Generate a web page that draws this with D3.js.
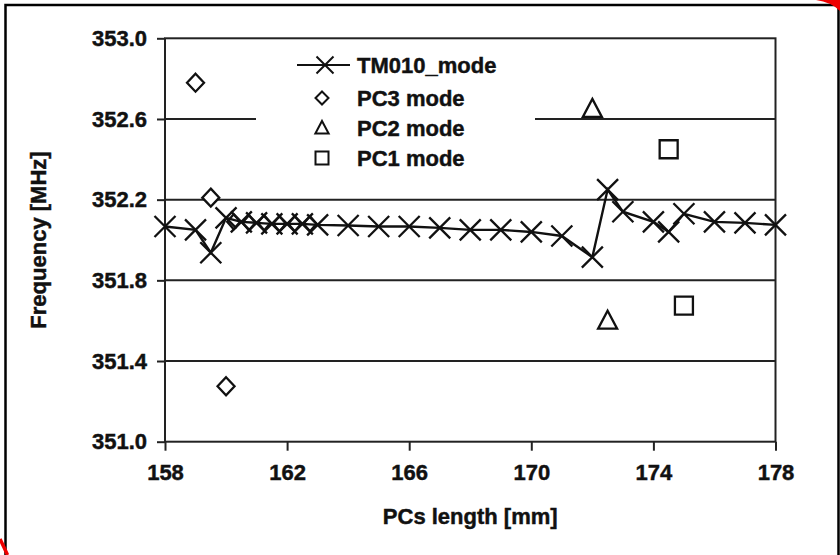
<html>
<head>
<script src="https://cdn.jsdelivr.net/npm/d3@7"></script>
<style>
    body {
        margin: 0;
        background: white;
        font-family: "Liberation Sans", Arial, Helvetica, sans-serif;
    }
    svg text {
        font-weight: bold;
        fill: #111;
        stroke: #111;
        stroke-width: 0.45px;
    }
</style>
</head>
<body>
<svg id="FreqChart"></svg>
<script>
    // TM010 mode (line + X markers)
    let tmLength = [158, 159, 159.5, 160, 160.5, 161, 161.5, 162, 162.5, 163, 164, 165, 166, 167, 168, 169, 170, 171, 172, 172.5, 173, 174, 174.5, 175, 176, 177, 178]
    let tmFreq = [352.067, 352.05, 351.937, 352.11, 352.09, 352.085, 352.08, 352.08, 352.08, 352.075, 352.072, 352.067, 352.067, 352.06, 352.05, 352.05, 352.04, 352.02, 351.915, 352.25, 352.14, 352.09, 352.04, 352.13, 352.09, 352.085, 352.075]

    // PC modes (markers only)
    let pc3Length = [159, 159.5, 160, 160.25, 160.75, 161.25, 161.75, 162.25, 162.75]
    let pc3Freq = [352.78, 352.21, 351.275, 352.09, 352.085, 352.085, 352.08, 352.08, 352.08]
    let pc2Length = [172, 172.5]
    let pc2Freq = [352.65, 351.6]
    let pc1Length = [174.5, 175]
    let pc1Freq = [352.45, 351.675]

    let xTicks = [158, 162, 166, 170, 174, 178]
    let yTicks = [351.0, 351.4, 351.8, 352.2, 352.6, 353.0]
    let legendLabels = ["TM010_mode", "PC3 mode", "PC2 mode", "PC1 mode"]

    function getChartConfig() {
        let width = 840
        let height = 555
        let margin = { top: 38.3, bottom: 113.3, left: 165, right: 64.5 }
        let bodyWidth = width - margin.left - margin.right
        let bodyHeight = height - margin.top - margin.bottom
        let container = d3.select("#FreqChart")
            .attr("width", width)
            .attr("height", height)
        return { width, height, margin, bodyWidth, bodyHeight, container }
    }

    function getChartScales(config) {
        let { bodyWidth, bodyHeight } = config
        let xScale = d3.scaleLinear().domain([158, 178]).range([0, bodyWidth])
        let yScale = d3.scaleLinear().domain([351, 353]).range([bodyHeight, 0])
        return { xScale, yScale }
    }

    function zip(xs, ys) {
        return xs.map((x, i) => ({ x: x, y: ys[i] }))
    }

    // marker drawers, centred on 0,0
    function crossPath(r) {
        return `M${-r},${-r}L${r},${r}M${-r},${r}L${r},${-r}`
    }
    function diamondPath(w, h) {
        return `M0,${-h}L${w},0L0,${h}L${-w},0Z`
    }
    function trianglePath(s) {
        return `M0,${-s}L${s * 0.95},${s * 0.8}L${-s * 0.95},${s * 0.8}Z`
    }
    function squarePath(s) {
        return `M${-s},${-s}H${s}V${s}H${-s}Z`
    }

    function drawFrame(config) {
        let { container } = config
        container.append("path")
            .attr("d", "M5.5,560V5H838.5V560")
            .attr("fill", "none")
            .attr("stroke", "#000")
            .attr("stroke-width", 2.5)
        // red marks at the corners
        container.append("path")
            .attr("d", "M816,0Q831,2 840,11L840,0Z")
            .attr("fill", "#e00")
        container.append("path")
            .attr("d", "M0,539Q4,547 7.5,555")
            .attr("fill", "none")
            .attr("stroke", "#e00")
            .attr("stroke-width", 3.5)
    }

    function drawAxes(scales, config) {
        let { xScale, yScale } = scales
        let { container, margin, bodyWidth, bodyHeight } = config
        let body = container.append("g")
            .attr("transform", `translate(${margin.left},${margin.top})`)

        // horizontal grid lines
        body.append("g").selectAll("line")
            .data(yTicks.slice(1, -1))
            .enter().append("line")
            .attr("x1", 0)
            .attr("x2", bodyWidth)
            .attr("y1", d => yScale(d))
            .attr("y2", d => yScale(d))
            .attr("stroke", "#222")
            .attr("stroke-width", 2)

        body.append("rect")
            .attr("width", bodyWidth)
            .attr("height", bodyHeight)
            .attr("fill", "none")
            .attr("stroke", "#222")
            .attr("stroke-width", 2)

        let axisY = d3.axisLeft(yScale)
            .tickValues(yTicks)
            .tickFormat(d3.format(".1f"))
            .tickSize(8)
            .tickPadding(10)
        let gy = body.append("g").call(axisY)
        gy.select(".domain").remove()

        let axisX = d3.axisBottom(xScale)
            .tickValues(xTicks)
            .tickSize(9)
            .tickPadding(14)
        let gx = body.append("g")
            .attr("transform", `translate(0,${bodyHeight})`)
            .call(axisX)
        gx.select(".domain").remove()

        container.selectAll(".tick line").attr("stroke", "#222").attr("stroke-width", 2)
        container.selectAll(".tick text")
            .attr("font-size", 22)
            .attr("font-family", "'Liberation Sans', Arial, sans-serif")
            .attr("fill", "#111")

        container.append("text")
            .attr("x", margin.left + bodyWidth / 2)
            .attr("y", 524)
            .attr("text-anchor", "middle")
            .attr("font-size", 22)
            .text("PCs length [mm]")

        container.append("text")
            .attr("transform", `translate(46,${margin.top + bodyHeight / 2}) rotate(-90)`)
            .attr("text-anchor", "middle")
            .attr("font-size", 22)
            .text("Frequency [MHz]")

        return body
    }

    function drawSeries(body, scales) {
        let { xScale, yScale } = scales
        let tm = zip(tmLength, tmFreq)

        let line = d3.line().x(d => xScale(d.x)).y(d => yScale(d.y))
        body.append("path")
            .datum(tm)
            .attr("d", line)
            .attr("fill", "none")
            .attr("stroke", "#111")
            .attr("stroke-width", 2.4)

        let markerStyle = sel => sel
            .attr("fill", "none")
            .attr("stroke", "#111")
            .attr("stroke-width", 2.3)

        body.append("g").selectAll("path")
            .data(tm)
            .enter().append("path")
            .attr("transform", d => `translate(${xScale(d.x)},${yScale(d.y)})`)
            .attr("d", crossPath(10.5))
            .call(markerStyle)

        body.append("g").selectAll("path")
            .data(zip(pc3Length, pc3Freq))
            .enter().append("path")
            .attr("transform", d => `translate(${xScale(d.x)},${yScale(d.y)})`)
            .attr("d", (d, i) => i < 3 ? diamondPath(8.5, 9) : diamondPath(6.5, 7.5))
            .call(markerStyle)
            .attr("fill", (d, i) => i < 3 ? "white" : "none")

        body.append("g").selectAll("path")
            .data(zip(pc2Length, pc2Freq))
            .enter().append("path")
            .attr("transform", d => `translate(${xScale(d.x)},${yScale(d.y)})`)
            .attr("d", trianglePath(10))
            .call(markerStyle)
            .attr("fill", "white")

        body.append("g").selectAll("path")
            .data(zip(pc1Length, pc1Freq))
            .enter().append("path")
            .attr("transform", d => `translate(${xScale(d.x)},${yScale(d.y)})`)
            .attr("d", squarePath(9))
            .call(markerStyle)
            .attr("fill", "white")
    }

    function drawLegend(config) {
        let { container } = config
        let legend = container.append("g")
        legend.append("rect")
            .attr("x", 256)
            .attr("y", 48)
            .attr("width", 279)
            .attr("height", 126)
            .attr("fill", "white")

        let rowY = [65, 98, 128, 158]
        let symbols = [null, diamondPath(6.5, 6.5), trianglePath(7), squarePath(6.5)]

        legend.append("line")
            .attr("x1", 297).attr("x2", 350)
            .attr("y1", rowY[0]).attr("y2", rowY[0])
            .attr("stroke", "#111").attr("stroke-width", 2)

        legend.selectAll(".sym")
            .data(legendLabels)
            .enter().append("path")
            .attr("transform", (d, i) => `translate(${i == 0 ? 325 : 322},${rowY[i]})`)
            .attr("d", (d, i) => i == 0 ? crossPath(8.5) : symbols[i])
            .attr("fill", "none")
            .attr("stroke", "#111")
            .attr("stroke-width", 2)

        legend.selectAll(".lab")
            .data(legendLabels)
            .enter().append("text")
            .attr("x", 357)
            .attr("y", (d, i) => rowY[i])
            .attr("dy", "0.36em")
            .attr("font-size", 22)
            .text(d => d)
    }

    function drawChart() {
        let config = getChartConfig()
        let scales = getChartScales(config)
        drawFrame(config)
        let body = drawAxes(scales, config)
        drawSeries(body, scales)
        drawLegend(config)
    }

    drawChart()
</script>
</body>
</html>
